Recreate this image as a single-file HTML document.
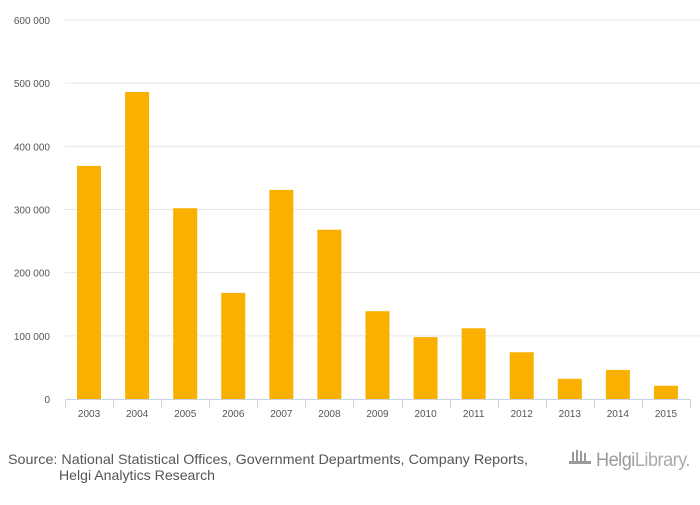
<!DOCTYPE html>
<html><head><meta charset="utf-8"><style>
body{margin:0;background:#fff;font-family:"Liberation Sans",sans-serif}
svg text{font-family:"Liberation Sans",sans-serif}
</style></head><body>
<svg id="chart" width="700" height="500">
<g id="grid"></g><g id="bars"></g><g id="xaxis"></g>
<text x="8" y="464" font-size="14" fill="#555" textLength="520" lengthAdjust="spacingAndGlyphs">Source: National Statistical Offices, Government Departments, Company Reports,</text>
<text x="59" y="480" font-size="14" fill="#555" textLength="156" lengthAdjust="spacingAndGlyphs">Helgi Analytics Research</text>
<g>
<g fill="#999"><rect x="572" y="452" width="2" height="10"/><rect x="576" y="450" width="2" height="12"/><rect x="580" y="451" width="2" height="11"/><rect x="584" y="453" width="2" height="9"/><rect x="569" y="461" width="22" height="3"/></g>
<text x="596" y="466" font-size="19" fill="#999" letter-spacing="-0.5" textLength="94" lengthAdjust="spacingAndGlyphs">Helgi<tspan fill="#aaa">Library.</tspan></text>
</g>
</svg>
<script>
const categories=["2003","2004","2005","2006","2007","2008","2009","2010","2011","2012","2013","2014","2015"];
const values=[369000,486000,302000,168000,331000,268000,139000,98000,112000,74000,32000,46000,21000];
const yTicks=[0,100000,200000,300000,400000,500000,600000];
const yTickLabels=["0","100 000","200 000","300 000","400 000","500 000","600 000"];
const NS="http://www.w3.org/2000/svg";
const x0=65,x1=690,yBase=399,yTop=20,yMax=600000;
const bw=(x1-x0)/categories.length;
const y=v=>yBase-(v/yMax)*(yBase-yTop);
const xC=i=>x0+bw*(i+0.5);
function mk(t,a,p){const e=document.createElementNS(NS,t);for(const k in a)e.setAttribute(k,a[k]);p.appendChild(e);return e;}
const g=document.getElementById('grid');
yTicks.forEach((v,i)=>{
 if(v>0){const l=mk('line',{x1:x0,x2:700,y1:y(v),y2:y(v),stroke:'#e6e6e6','stroke-width':1},g);
 
 }
 const t=mk('text',{x:50,y:y(v)+4,'text-anchor':'end','font-size':10,fill:'#555'},g);t.textContent=yTickLabels[i];
 
 
});
const b=document.getElementById('bars');
values.forEach((v,i)=>{
 const r=mk('rect',{x:xC(i)-12,y:y(v),width:24,height:yBase-y(v),fill:'#f9b000'},b);
 
 
});
const xa=document.getElementById('xaxis');
const al=mk('line',{x1:x0,x2:x1,y1:yBase+0.5,y2:yBase+0.5,stroke:'#c8d4e6'},xa);


for(let i=0;i<=categories.length;i++){const xx=Math.round(x0+bw*i)+0.5;mk('line',{x1:xx,x2:xx,y1:yBase,y2:yBase+9,stroke:'#c8d4e6'},xa);}
categories.forEach((c,i)=>{const t=mk('text',{x:xC(i),y:417,'text-anchor':'middle','font-size':10,fill:'#555'},xa);t.textContent=c;
 
 });
</script>
</body></html>
